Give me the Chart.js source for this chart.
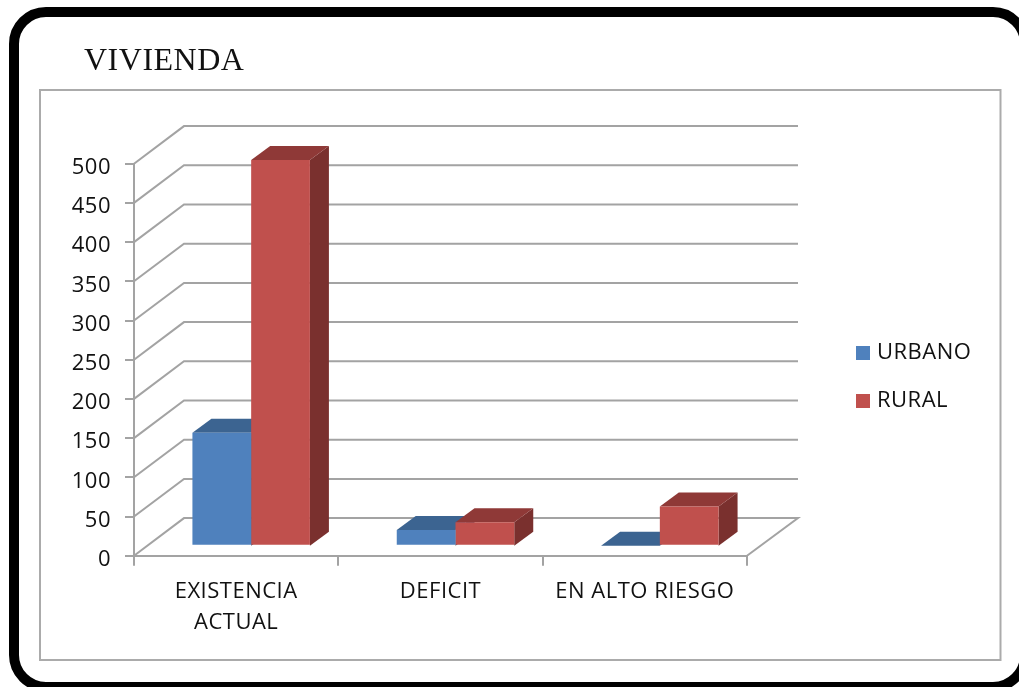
<!DOCTYPE html>
<html><head><meta charset="utf-8">
<style>html,body{margin:0;padding:0;background:#fff;overflow:hidden}canvas{display:block;filter:blur(0.6px)}</style>
<script src="https://cdn.jsdelivr.net/npm/chart.js@4"></script>
</head><body><canvas id="c" width="1019" height="687"></canvas>
<script>
const categories = [["EXISTENCIA","ACTUAL"],"DEFICIT","EN ALTO RIESGO"];
const urbano = [144,20,0];
const rural = [492,30,50];
const yTicksMax = 500, yTickStep = 50;
const titleText = "VIVIENDA";

const GRID = "#a3a3a3", FONT = "'Open Sans'";
const WALL = {dx:50, dy:37.6};          // depth of the floor / wall
const BAR = {ox:15, oy:10, dx:19, dy:14}; // bar inset and depth
const FACES = [
  {front:"#4F81BD", top:"#3C6491", side:"#2F4F74"},
  {front:"#C0504D", top:"#8F3937", side:"#7A302E"}
];

function poly(ctx, pts, fill){
  ctx.beginPath();
  pts.forEach((p,i)=> i?ctx.lineTo(p[0],p[1]):ctx.moveTo(p[0],p[1]));
  ctx.closePath(); ctx.fillStyle=fill; ctx.fill();
}
function swatch(color){
  const s=document.createElement("canvas"); s.width=14; s.height=14;
  const g=s.getContext("2d"); g.fillStyle=color; g.fillRect(0,0,14,14);
  return s;
}
const swatches = FACES.map(f=>swatch(f.front));

const scene = {
  id:"scene",
  afterLayout(chart){
    const y=chart.scales.y;
    chart.legend.left=834; chart.legend.right=1000;
    chart.legend.top=316;  chart.legend.bottom=660;
    y.left=50;
    if(!y._shifted){
      y._shifted=true;
      const orig=y._computeLabelItems.bind(y);
      y._computeLabelItems=a=>{
        const items=orig(a);
        items.forEach(it=>{it.options.translation=[it.options.translation[0],it.options.translation[1]+4];});
        return items;
      };
    }
  },
  beforeDraw(chart){
    const c=chart.ctx;
    c.letterSpacing="0.5px";
    c.save();
    c.fillStyle="#fff"; c.fillRect(0,0,1019,687);
    c.strokeStyle="#000"; c.lineWidth=10;
    c.beginPath(); c.roundRect(14,12,1011,675,32); c.stroke();
    c.strokeStyle="#ababab"; c.lineWidth=2;
    c.strokeRect(40,90,960.5,570);
    c.restore();
  },
  beforeDatasetsDraw(chart){
    const c=chart.ctx, a=chart.chartArea, y=chart.scales.y;
    c.save();
    c.strokeStyle=GRID; c.lineWidth=2;
    y.ticks.forEach(t=>{
      const py=y.getPixelForValue(t.value);
      c.beginPath();
      c.moveTo(a.left,py);
      c.lineTo(a.left+WALL.dx,py-WALL.dy);
      c.lineTo(a.right+WALL.dx+1,py-WALL.dy);
      if(t.value===0) c.lineTo(a.right,py);
      c.stroke();
    });
    c.restore();
    // depth faces: blue first, then red, all beneath the native front faces
    [0,1].forEach(i=>{
      const f=FACES[i];
      chart.getDatasetMeta(i).data.forEach(b=>{
        const l=b.x-b.width/2+BAR.ox, r=b.x+b.width/2+BAR.ox;
        const t=b.y-BAR.oy, bt=y.getPixelForValue(0)-BAR.oy;
        poly(c,[[r,t],[r+BAR.dx,t-BAR.dy],[r+BAR.dx,bt-BAR.dy],[r,bt]],f.side);
        poly(c,[[l,t],[l+BAR.dx,t-BAR.dy],[r+BAR.dx,t-BAR.dy],[r,t]],f.top);
      });
    });
    c.save(); c.translate(BAR.ox,-BAR.oy);
  },
  afterDatasetsDraw(chart){ chart.ctx.restore(); }
};

new Chart(document.getElementById("c"),{
  type:"bar",
  data:{labels:categories,datasets:[
    {label:"URBANO",data:urbano,backgroundColor:FACES[0].front,clip:false},
    {label:"RURAL",data:rural,backgroundColor:FACES[1].front,clip:false}
  ]},
  options:{
    responsive:false,animation:false,devicePixelRatio:1,
    layout:{padding:{left:84,right:272,top:0,bottom:31.3}},
    datasets:{bar:{categoryPercentage:0.575,barPercentage:1}},
    plugins:{
      tooltip:{enabled:false},
      title:{display:true,text:titleText,align:"start",color:"#111",
        font:{family:"'Liberation Serif'",size:32,weight:"normal",lineHeight:1.2},
        padding:{top:42,bottom:83.3}},
      legend:{position:"chartArea",align:"start",
        labels:{boxWidth:14,boxHeight:14,padding:26,color:"#111",
          usePointStyle:true,pointStyleWidth:6,
          font:{family:FONT,size:22},
          generateLabels(chart){
            return Chart.defaults.plugins.legend.labels.generateLabels(chart)
              .map(l=>Object.assign(l,{pointStyle:swatches[l.datasetIndex]}));
          }}}
    },
    scales:{
      x:{
        afterFit(s){s.height=100;},
        grid:{drawOnChartArea:false,drawTicks:true,tickLength:10,color:GRID,lineWidth:2},
        border:{color:GRID,width:2},
        ticks:{color:"#111",padding:10,maxRotation:0,autoSkip:false,
          font:{family:FONT,size:22,lineHeight:1.44}}
      },
      y:{
        min:0,max:yTicksMax,
        afterFit(s){s.width=50;},
        grid:{drawOnChartArea:false,drawTicks:true,tickLength:9,color:GRID,lineWidth:2},
        border:{color:GRID,width:2},
        ticks:{stepSize:yTickStep,color:"#111",padding:14,
          font:{family:FONT,size:22}}
      }
    }
  },
  plugins:[scene]
});
</script></body></html>
